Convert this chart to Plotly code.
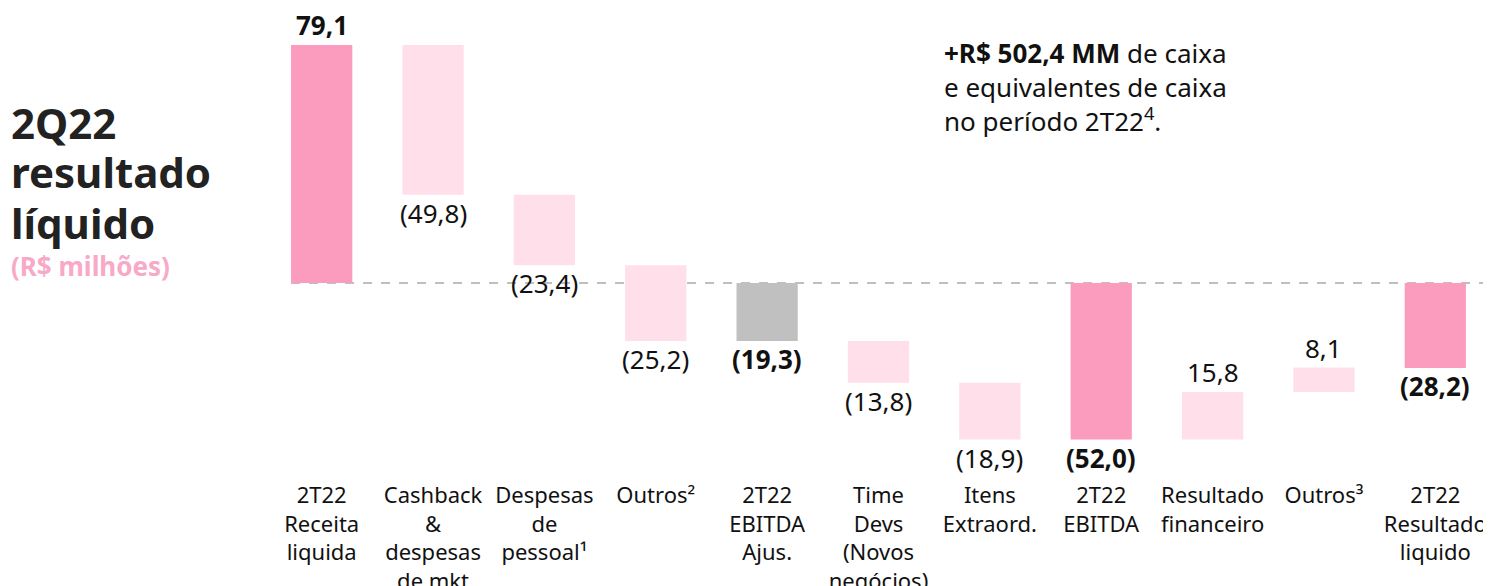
import plotly.graph_objects as go

categories = ["2T22<br>Receita<br>liquida", "Cashback<br>&<br>despesas<br>de mkt",
              "Despesas<br>de<br>pessoal¹", "Outros²", "2T22<br>EBITDA<br>Ajus.",
              "Time<br>Devs<br>(Novos<br>negócios)", "Itens<br>Extraord.", "2T22<br>EBITDA",
              "Resultado<br>financeiro", "Outros³", "2T22<br>Resultado<br>liquido"]
values = [79.1, -49.8, -23.4, -25.2, -19.3, -13.8, -18.9, -52.0, 15.8, 8.1, -28.2]
kinds = ["total", "delta", "delta", "delta", "total", "delta", "delta", "total", "delta", "delta", "total"]
highlight_gray = [False, False, False, False, True, False, False, False, False, False, False]
title_lines = ["2Q22", "resultado", "líquido"]

DARK = "#FB9CBF"
LIGHT = "#FEDFEA"
GRAY = "#C0C0C0"
FONT = "Noto Sans"

bases, heights, colors = [], [], []
running = 0.0
for v, k, g in zip(values, kinds, highlight_gray):
    if k == "total":
        bases.append(0.0)
        heights.append(v)
        running = v
        colors.append(GRAY if g else DARK)
    else:
        bases.append(running)
        heights.append(v)
        running += v
        colors.append(LIGHT)

x_idx = list(range(len(categories)))
fig = go.Figure(go.Bar(x=x_idx, y=heights, base=bases, marker=dict(color=colors, line=dict(width=0)),
                       hoverinfo="skip"))

def fmt(v):
    s = f"{abs(v):.1f}".replace(".", ",")
    return f"({s})" if v < 0 else s

annotations = []
for i, (v, k, b) in enumerate(zip(values, kinds, bases)):
    txt = fmt(v)
    if k == "total":
        txt = f"<b>{txt}</b>"
    if v >= 0:
        annotations.append(dict(x=i, y=b + v, xref="x", yref="y", text=txt, showarrow=False,
                                yanchor="bottom", yshift=0, font=dict(size=26, color="#111", family=FONT)))
    else:
        annotations.append(dict(x=i, y=b + v, xref="x", yref="y", text=txt, showarrow=False,
                                yanchor="top", yshift=2, font=dict(size=26, color="#111", family=FONT)))

# the page body adds an 8px offset; layout numbers below are in figure pixels
W, H = 1491, 586
OFF = 8
ML, MR = 266 - OFF, OFF
PH = 480 - OFF
MB = H - PH
PW = W - ML - MR
ZERO_PX = 283 - OFF
SCALE = 3.01

def px(xp):
    return (xp - OFF - ML) / PW

def py(yp):
    return (PH - (yp - OFF)) / PH

for line, yc in zip(title_lines, [122, 172, 222]):
    annotations.append(dict(xref="paper", yref="paper", x=px(9), y=py(yc), xanchor="left", yanchor="middle",
                            align="left", showarrow=False, text=f"<b>{line}</b>",
                            font=dict(size=42, color="#222222", family=FONT)))
annotations.append(dict(xref="paper", yref="paper", x=px(9), y=py(266), xanchor="left", yanchor="middle",
                        align="left", showarrow=False, text="<b>(R$ milhões)</b>",
                        font=dict(size=26, color="#F8A9C8", family=FONT)))
annotations.append(dict(xref="paper", yref="paper", x=px(942), y=py(87), xanchor="left", yanchor="middle",
                        align="left", showarrow=False,
                        text="<b>+R$ 502,4 MM</b> de caixa<br>e equivalentes de caixa<br>no período 2T22<sup>4</sup>.",
                        font=dict(size=26, color="#111", family=FONT)))

fig.update_layout(
    width=W, height=H,
    margin=dict(l=ML, r=MR, t=0, b=MB, pad=0, autoexpand=False),
    plot_bgcolor="white", paper_bgcolor="white",
    bargap=0.45, showlegend=False,
    annotations=annotations,
    shapes=[dict(type="line", xref="x", yref="y", x0=-0.275, x1=10.6, y0=0, y1=0,
                 line=dict(color="#AAAAAA", width=1.5, dash="dash"), layer="below")],
    xaxis=dict(tickmode="array", tickvals=x_idx, ticktext=categories, range=[-0.5, 10.5],
               showgrid=False, zeroline=False, showline=False, ticks="", automargin=False,
               tickfont=dict(size=22, color="#111", family=FONT)),
    yaxis=dict(range=[-(PH - ZERO_PX) / SCALE, ZERO_PX / SCALE], visible=False, showgrid=False,
               zeroline=False, automargin=False),
    font=dict(family=FONT),
)

fig.write_html("out.html")
